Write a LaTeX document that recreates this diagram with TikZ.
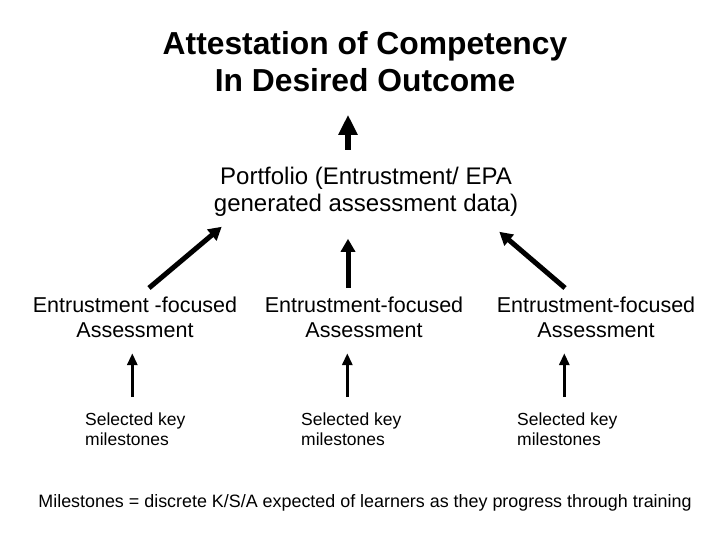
\documentclass[tikz,border=0pt]{standalone}
\usepackage{fontspec}
\setmainfont{Liberation Sans}
\usetikzlibrary{arrows.meta}

\begin{document}
\begin{tikzpicture}[x=1pt, y=-1pt, lbl/.style={inner sep=0pt, anchor=north, align=center, node font=#1}, lbl/.default=\normalsize, bigarrow/.style={line width=5.5pt, -{Triangle[width=18pt, length=20pt]}}, midarrow/.style={line width=5pt, -{Triangle[width=14pt, length=13pt]}}, smallarrow/.style={line width=3pt, -{Triangle[width=10pt, length=12pt]}}]

\useasboundingbox (0,0) rectangle (720,540);

\node [lbl=\bfseries\fontsize{31.8}{37}\selectfont] (title) at (365, 31){Attestation of Competency\\In Desired Outcome};
\node [lbl=\fontsize{24}{27}\selectfont] (port) at (366, 167){Portfolio (Entrustment/ EPA\\generated assessment data)};
\node [lbl=\fontsize{21.5}{25}\selectfont] (ent1) at (135, 297){Entrustment -focused\\Assessment};
\node [lbl=\fontsize{21.5}{25}\selectfont] (ent2) at (364, 297){Entrustment-focused\\Assessment};
\node [lbl=\fontsize{21.5}{25}\selectfont] (ent3) at (596, 297){Entrustment-focused\\Assessment};
\node [lbl=\fontsize{17.5}{20}\selectfont, anchor=north west, align=left] (key1) at (85, 413){Selected key\\milestones};
\node [lbl=\fontsize{17.5}{20}\selectfont, anchor=north west, align=left] (key2) at (301, 413){Selected key\\milestones};
\node [lbl=\fontsize{17.5}{20}\selectfont, anchor=north west, align=left] (key3) at (517, 413){Selected key\\milestones};
\node [lbl=\fontsize{17.9}{20}\selectfont] (note) at (365, 494){Milestones = discrete K/S/A expected of learners as they progress through training};

\draw[bigarrow, shorten <=17pt, shorten >=23pt] ([xshift=-18pt]port.north) -- ([xshift=-17pt]title.south);
\draw[midarrow, shorten <=9pt, shorten >=22pt] ([xshift=-16pt]ent2.north) -- ([xshift=-18pt]port.south);
\draw[midarrow] ([shift={(14,-9)}]ent1.north) -- ([shift={(8,10)}]port.south west);
\draw[midarrow] ([shift={(-31,-9)}]ent3.north) -- ([shift={(-19,15)}]port.south east);
\draw[smallarrow, shorten <=16pt, shorten >=15pt] ([xshift=-3pt]key1.north) -- ([xshift=-3pt]key1.north |- ent1.south);
\draw[smallarrow, shorten <=16pt, shorten >=15pt] ([xshift=-4pt]key2.north) -- ([xshift=-4pt]key2.north |- ent2.south);
\draw[smallarrow, shorten <=16pt, shorten >=15pt] ([xshift=-3pt]key3.north) -- ([xshift=-3pt]key3.north |- ent3.south);

\end{tikzpicture}
\end{document}
